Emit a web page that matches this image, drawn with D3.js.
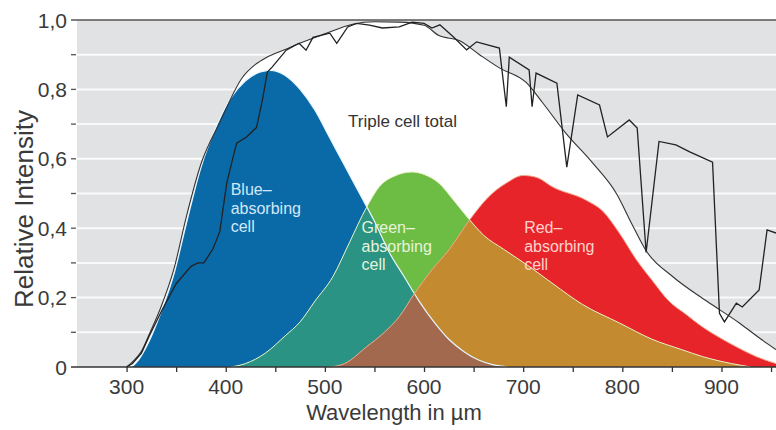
<!DOCTYPE html>
<html>
<head>
<meta charset="utf-8">
<script src="https://cdn.jsdelivr.net/npm/d3@7"></script>
<style>
  body { margin: 0; background: #fff; }
  text { font-family: "Liberation Sans", Arial, sans-serif; }
</style>
</head>
<body>
<svg id="chart" width="776" height="430"></svg>
<script>
// [wavelength nm, relative intensity]
const solarSpectrum = [
  [300, 0], [306, 0.01], [315, 0.04], [323, 0.09], [335, 0.16], [350, 0.24], [365, 0.29],
  [372, 0.3], [378, 0.3], [387, 0.34], [394, 0.39], [401, 0.53], [407, 0.6], [411, 0.645],
  [421, 0.663], [431, 0.69], [437, 0.77], [442, 0.85], [447, 0.865], [461, 0.913],
  [474, 0.933], [481, 0.913], [488, 0.95], [505, 0.962], [512, 0.933], [523, 0.98],
  [532, 0.99], [545, 0.985], [558, 0.977], [575, 0.98], [588, 0.994], [600, 0.99],
  [608, 0.977], [616, 0.986], [630, 0.95], [643, 0.914], [653, 0.937], [676, 0.919],
  [683, 0.75], [686, 0.893], [706, 0.856], [709, 0.75], [713, 0.847], [734, 0.818],
  [744, 0.576], [755, 0.784], [777, 0.755], [785, 0.663], [807, 0.712], [815, 0.689],
  [824, 0.33], [837, 0.65], [854, 0.64], [868, 0.62], [891, 0.59], [898, 0.155],
  [903, 0.13], [915, 0.184], [921, 0.173], [938, 0.222], [946, 0.395], [955, 0.386]
];

const tripleTotal = [
  [300, 0], [306, 0.015], [315, 0.045], [323, 0.095], [335, 0.175], [348, 0.285],
  [360, 0.43], [375, 0.585], [394, 0.705], [417, 0.835], [430, 0.872], [441, 0.892],
  [460, 0.915], [474, 0.932], [500, 0.96], [528, 0.988], [550, 0.995], [575, 0.994],
  [600, 0.985], [615, 0.955], [636, 0.94], [656, 0.9], [676, 0.862], [703, 0.82],
  [720, 0.76], [743, 0.674], [770, 0.588], [794, 0.5], [810, 0.41], [824, 0.335],
  [851, 0.26], [885, 0.19], [918, 0.127], [940, 0.08], [955, 0.05]
];

const blueCell = [
  [305, 0], [312, 0.02], [322, 0.07], [335, 0.16], [348, 0.27], [360, 0.41], [375, 0.575],
  [390, 0.69], [405, 0.775], [420, 0.825], [435, 0.85], [445, 0.855], [460, 0.84],
  [475, 0.8], [490, 0.74], [505, 0.66], [520, 0.58], [535, 0.5], [550, 0.42], [565, 0.33],
  [580, 0.26], [595, 0.19], [610, 0.13], [625, 0.08], [640, 0.045], [655, 0.02],
  [670, 0.006], [685, 0]
];

const greenCell = [
  [405, 0], [420, 0.01], [440, 0.04], [460, 0.09], [475, 0.13], [490, 0.19], [508, 0.26],
  [525, 0.36], [542, 0.46], [555, 0.52], [570, 0.55], [588, 0.562], [600, 0.555],
  [615, 0.53], [630, 0.48], [646, 0.424], [660, 0.38], [680, 0.34], [706, 0.29],
  [730, 0.24], [760, 0.18], [797, 0.127], [830, 0.08], [860, 0.05], [881, 0.03],
  [910, 0.01], [930, 0]
];

const redCell = [
  [505, 0], [520, 0.01], [542, 0.058], [560, 0.1], [575, 0.145], [590, 0.21], [608, 0.28],
  [625, 0.337], [646, 0.424], [665, 0.49], [683, 0.53], [700, 0.552], [715, 0.545],
  [729, 0.52], [764, 0.48], [780, 0.45], [797, 0.386], [814, 0.31], [830, 0.25],
  [847, 0.19], [865, 0.15], [881, 0.115], [898, 0.085], [915, 0.058], [935, 0.03],
  [955, 0.01]
];

const xTickValues = [300, 400, 500, 600, 700, 800, 900];
const xMinorTicks = [300, 350, 400, 450, 500, 550, 600, 650, 700, 750, 800, 850, 900, 950];
const yTickValues = [0, 0.2, 0.4, 0.6, 0.8, 1.0];
const yTickLabels = ['0', '0,2', '0,4', '0,6', '0,8', '1,0'];
const yMinorTicks = [0.1, 0.2, 0.3, 0.4, 0.5, 0.6, 0.7, 0.8, 0.9];

const cellLabels = [
  { lines: ['Blue–', 'absorbing', 'cell'], nm: 405, v: 0.495, color: '#d3e7f6' },
  { lines: ['Green–', 'absorbing', 'cell'], nm: 537, v: 0.385, color: '#e7f3da' },
  { lines: ['Red–', 'absorbing', 'cell'], nm: 701, v: 0.385, color: '#ffd2cd' }
];

const svg = d3.select('#chart');

const x = d3.scaleLinear().domain([250, 955]).range([77, 776]);
const y = d3.scaleLinear().domain([0, 1]).range([367, 20]);

// plot background + grid
svg.append('rect')
  .attr('x', x(250)).attr('y', y(1))
  .attr('width', x(955) - x(250)).attr('height', y(0) - y(1))
  .attr('fill', '#e1e2e4');

svg.append('g')
  .selectAll('line')
  .data(yMinorTicks)
  .join('line')
  .attr('x1', x(250)).attr('x2', x(955))
  .attr('y1', d => y(d)).attr('y2', d => y(d))
  .attr('stroke', '#fafafa')
  .attr('stroke-width', 2);

const area = d3.area()
  .x(d => x(d[0]))
  .y0(y(0))
  .y1(d => y(d[1]))
  .curve(d3.curveMonotoneX);

const line = d3.line()
  .x(d => x(d[0]))
  .y(d => y(d[1]))
  .curve(d3.curveMonotoneX);

// clip paths for the overlaps
const defs = svg.append('defs');
[['clip-blue', blueCell], ['clip-green', greenCell]].forEach(([id, data]) => {
  defs.append('clipPath').attr('id', id)
    .append('path').attr('d', area(data));
});

// triple cell total (white)
svg.append('path')
  .attr('d', area(tripleTotal))
  .attr('fill', '#ffffff');

svg.append('path').attr('d', area(blueCell)).attr('fill', '#0a6aa8');
svg.append('path').attr('d', area(greenCell)).attr('fill', '#6dbd45');
svg.append('path').attr('d', area(redCell)).attr('fill', '#e8242b');

// overlaps
svg.append('g').attr('clip-path', 'url(#clip-green)')
  .append('path').attr('d', area(redCell)).attr('fill', '#c38a30');
svg.append('g').attr('clip-path', 'url(#clip-blue)')
  .append('path').attr('d', area(greenCell)).attr('fill', '#2a9383');
svg.append('g').attr('clip-path', 'url(#clip-blue)')
  .append('path').attr('d', area(redCell)).attr('fill', '#a3694f');

// thin light outlines of the cells
svg.append('path').attr('d', line(blueCell)).attr('fill', 'none')
  .attr('stroke', '#e8f6ff').attr('stroke-width', 1.2);
svg.append('path').attr('d', line(greenCell)).attr('fill', 'none')
  .attr('stroke', '#eaf3c8').attr('stroke-width', 1);
svg.append('path').attr('d', line(redCell)).attr('fill', 'none')
  .attr('stroke', '#f7a98c').attr('stroke-width', 1);

// total and spectrum lines
svg.append('path').attr('d', line(tripleTotal)).attr('fill', 'none')
  .attr('stroke', '#333').attr('stroke-width', 1.1);
svg.append('path').attr('d', d3.line().x(d => x(d[0])).y(d => y(d[1]))(solarSpectrum))
  .attr('fill', 'none')
  .attr('stroke', '#222').attr('stroke-width', 1.3)
  .attr('stroke-linejoin', 'miter');

// top border and x axis line
svg.append('line')
  .attr('x1', 71).attr('x2', 776).attr('y1', y(1)).attr('y2', y(1))
  .attr('stroke', '#555').attr('stroke-width', 1.5);

const xAxis = svg.append('g')
  .attr('transform', `translate(0,${y(0)})`)
  .call(d3.axisBottom(x).tickValues(xMinorTicks).tickFormat('').tickSizeInner(5).tickSizeOuter(0));
xAxis.select('.domain').remove();
xAxis.selectAll('line').attr('stroke', '#333').attr('stroke-width', 1.3);
svg.append('line')
  .attr('x1', 71).attr('x2', 776).attr('y1', y(0)).attr('y2', y(0))
  .attr('stroke', '#333').attr('stroke-width', 1.6);

svg.append('g')
  .selectAll('text')
  .data(xTickValues)
  .join('text')
  .attr('x', d => x(d))
  .attr('y', 394)
  .attr('text-anchor', 'middle')
  .attr('font-size', 21)
  .attr('fill', '#3a3a3a')
  .text(d => d);

// y axis ticks
svg.append('g')
  .selectAll('line')
  .data(yMinorTicks)
  .join('line')
  .attr('x1', 71).attr('x2', 76)
  .attr('y1', d => y(d)).attr('y2', d => y(d))
  .attr('stroke', '#555').attr('stroke-width', 1.3);

svg.append('g')
  .selectAll('text')
  .data(yTickValues)
  .join('text')
  .attr('x', 67)
  .attr('y', d => y(d))
  .attr('dy', '0.36em')
  .attr('text-anchor', 'end')
  .attr('font-size', 21)
  .attr('fill', '#3a3a3a')
  .text((d, i) => yTickLabels[i]);

// axis titles
svg.append('text')
  .attr('x', 394).attr('y', 420)
  .attr('text-anchor', 'middle')
  .attr('font-size', 22)
  .attr('fill', '#3a3a3a')
  .text('Wavelength in µm');

svg.append('text')
  .attr('transform', `translate(33,${209}) rotate(-90)`)
  .attr('text-anchor', 'middle')
  .attr('font-size', 26)
  .attr('fill', '#3a3a3a')
  .text('Relative Intensity');

// annotations
svg.append('text')
  .attr('x', 348).attr('y', 127)
  .attr('font-size', 17)
  .attr('fill', '#333')
  .text('Triple cell total');

cellLabels.forEach(lbl => {
  lbl.lines.forEach((s, i) => {
    svg.append('text')
      .attr('x', x(lbl.nm))
      .attr('y', y(lbl.v) + i * 18.5)
      .attr('font-size', 16)
      .attr('fill', lbl.color)
      .text(s);
  });
});
</script>
</body>
</html>
